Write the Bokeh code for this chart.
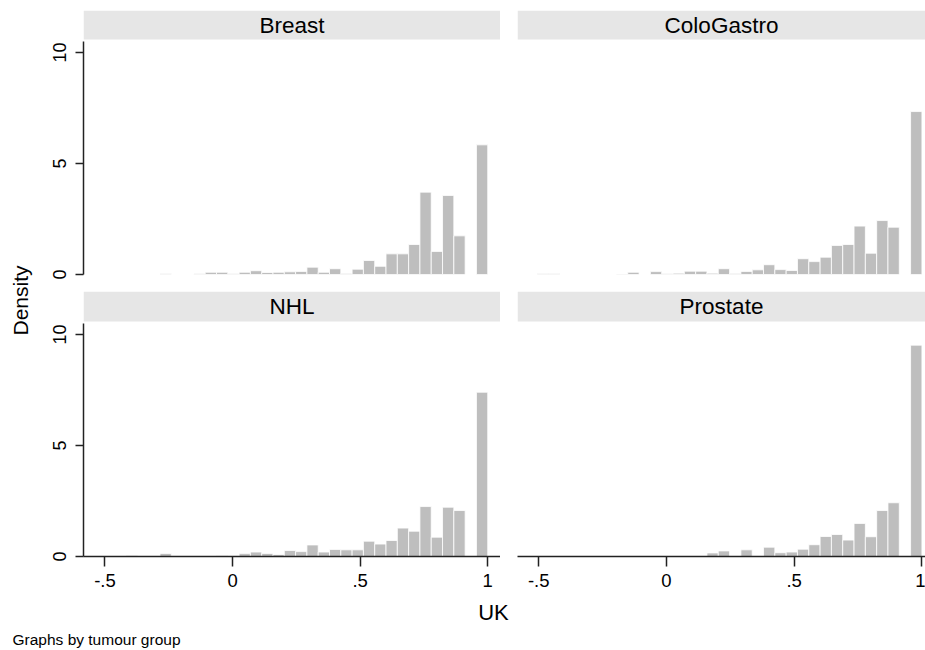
import numpy as np
from math import pi
from bokeh.plotting import figure
from bokeh.models import Range1d, LinearAxis, FixedTicker, BoxAnnotation, Label, ColumnDataSource
from bokeh.layouts import row, column
from bokeh.embed import file_html
from bokeh.resources import INLINE

# ---------------- data ----------------
groups = ["Breast", "ColoGastro", "NHL", "Prostate"]
bin_min = -0.55
bin_max = 1.0
n_bins = 35

breast = [0, 0, 0, 0, 0, 0, 0.03, 0, 0, 0.03,
          0.10, 0.10, 0.03, 0.10, 0.17, 0.09, 0.10, 0.12, 0.14, 0.33,
          0.10, 0.26, 0.04, 0.24, 0.63, 0.37, 0.93, 0.93, 1.35, 3.71,
          1.04, 3.56, 1.74, 0, 5.84]
cologastro = [0, 0.03, 0.03, 0, 0, 0, 0, 0, 0.02, 0.10,
              0, 0.13, 0.03, 0.06, 0.15, 0.15, 0.06, 0.26, 0.05, 0.14,
              0.21, 0.44, 0.22, 0.18, 0.71, 0.58, 0.78, 1.31, 1.35, 2.18,
              0.96, 2.43, 2.13, 0, 7.34]
nhl = [0.01, 0.01, 0.02, 0.04, 0.02, 0, 0.14, 0, 0, 0,
       0.02, 0.03, 0, 0.13, 0.20, 0.14, 0.09, 0.27, 0.22, 0.52,
       0.20, 0.32, 0.30, 0.30, 0.69, 0.56, 0.72, 1.28, 1.14, 2.25,
       0.87, 2.22, 2.07, 0, 7.40]
prostate = [0, 0, 0.01, 0.01, 0, 0, 0, 0, 0, 0,
            0.02, 0.02, 0, 0, 0, 0, 0.16, 0.25, 0, 0.30,
            0, 0.42, 0.17, 0.20, 0.33, 0.53, 0.90, 0.99, 0.74, 1.49,
            0.89, 2.07, 2.42, 0, 9.52]

x_ticks = [-0.5, 0, 0.5, 1]
x_tick_labels = ["-.5", "0", ".5", "1"]
y_ticks = [0, 5, 10]
y_tick_labels = ["0", "5", "10"]

y_label = "Density"
x_label = "UK"
note = "Graphs by tumour group"

# ---------------- style ----------------
FONT = "Liberation Sans"
BAR = "#bebebe"
STRIP = "#e6e6e6"
AXIS = "#222222"
PX_PER_UNIT = 22.2
HEADER_BOTTOM = 10.58

edges = np.linspace(bin_min, bin_max, n_bins + 1)


def panel(title, heights, width, height, bl, bt, bb, xr, show_y, show_x):
    frame_h = height - bt - bb
    p = figure(width=width, height=height, output_backend="svg", toolbar_location=None,
               x_range=Range1d(*xr), y_range=Range1d(0, frame_h / PX_PER_UNIT),
               x_axis_location=None, y_axis_location=None,
               min_border_left=bl, min_border_right=0, min_border_top=bt, min_border_bottom=bb)
    p.xgrid.visible = False
    p.ygrid.visible = False
    p.outline_line_color = None
    p.background_fill_color = "white"
    p.border_fill_color = "white"

    src = ColumnDataSource(dict(left=edges[:-1], right=edges[1:], top=heights,
                                bottom=[0] * len(heights)))
    p.quad(left="left", right="right", top="top", bottom="bottom", source=src,
           fill_color=BAR, line_color="white", line_width=0.8)

    p.add_layout(BoxAnnotation(bottom=HEADER_BOTTOM, fill_color=STRIP, fill_alpha=1,
                               line_color=None, level="annotation"))
    p.add_layout(Label(x=(xr[0] + xr[1]) / 2, y=(HEADER_BOTTOM + frame_h / PX_PER_UNIT) / 2,
                       text=title, text_align="center", text_baseline="middle",
                       text_font=FONT, text_font_size="22.5px", text_color="black"))

    if show_y:
        ax = LinearAxis(ticker=FixedTicker(ticks=y_ticks), bounds=(0, 10.5),
                        major_label_orientation="vertical",
                        major_label_overrides={t: s for t, s in zip(y_ticks, y_tick_labels)},
                        major_label_text_font=FONT, major_label_text_font_size="18px",
                        major_label_text_color="black", major_label_standoff=10,
                        axis_line_color=AXIS, axis_line_width=1.5,
                        major_tick_line_color=AXIS, major_tick_line_width=1.5,
                        major_tick_in=0, major_tick_out=8, minor_tick_out=0, minor_tick_in=0)
        p.add_layout(ax, "left")
    if show_x:
        ax = LinearAxis(ticker=FixedTicker(ticks=x_ticks),
                        major_label_overrides={t: s for t, s in zip(x_ticks, x_tick_labels)},
                        major_label_text_font=FONT, major_label_text_font_size="18.5px",
                        major_label_text_color="black", major_label_standoff=7,
                        axis_line_color=AXIS, axis_line_width=1.5,
                        major_tick_line_color=AXIS, major_tick_line_width=1.5,
                        major_tick_in=0, major_tick_out=10, minor_tick_out=0, minor_tick_in=0)
        p.add_layout(ax, "below")
    return p


LEFT_XR = (-0.584, 1.050)
RIGHT_XR = (-0.583, 1.014)

tl = panel(groups[0], breast, 460, 290, 43, 10, 16, LEFT_XR, True, False)
tr = panel(groups[1], cologastro, 425, 290, 17, 10, 16, RIGHT_XR, False, False)
bl = panel(groups[2], nhl, 460, 310, 43, 1, 44, LEFT_XR, True, True)
br = panel(groups[3], prostate, 425, 310, 17, 1, 44, RIGHT_XR, False, True)


def blank(width, height):
    f = figure(width=width, height=height, output_backend="svg", toolbar_location=None,
               x_range=Range1d(0, width), y_range=Range1d(0, height),
               x_axis_location=None, y_axis_location=None,
               min_border=0, min_border_left=0, min_border_right=0,
               min_border_top=0, min_border_bottom=0)
    f.xgrid.visible = False
    f.ygrid.visible = False
    f.outline_line_color = None
    f.border_fill_color = "white"
    return f


dens = blank(40, 600)
dens.add_layout(Label(x=20, y=300, text=y_label, angle=pi / 2, text_align="center",
                      text_baseline="middle", text_font=FONT, text_font_size="21px",
                      text_color="black"))

bottom = blank(925, 50)
bottom.add_layout(Label(x=493, y=38, text=x_label, text_align="center", text_baseline="middle",
                        text_font=FONT, text_font_size="22px", text_color="black"))
bottom.add_layout(Label(x=12, y=11, text=note, text_align="left", text_baseline="middle",
                        text_font=FONT, text_font_size="15.5px", text_color="black"))

layout = column(row(dens, column(row(tl, tr), row(bl, br))), bottom)

open("out.html", "w").write(file_html(layout, INLINE))
